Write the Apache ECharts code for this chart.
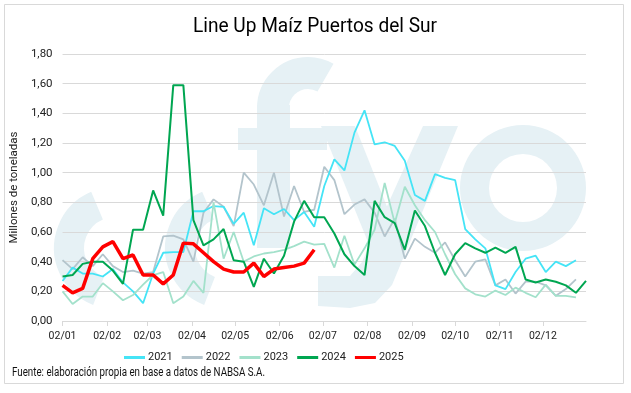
<!DOCTYPE html>
<html>
<head>
<meta charset="utf-8">
<script src="https://cdn.jsdelivr.net/npm/echarts@6/dist/echarts.min.js"></script>
<style>html,body{margin:0;padding:0;background:#fff}#c{width:631px;height:393px}</style>
</head>
<body>
<div id="c"></div>
<script>
var FONT = "Roboto, 'Liberation Sans', sans-serif";
var title = 'Line Up Maíz Puertos del Sur';
var yAxisName = 'Millones de toneladas';
var source = 'Fuente: elaboración propia en base a datos de NABSA S.A.';
var tickLabels = ['02/01','02/02','02/03','02/04','02/05','02/06','02/07','02/08','02/09','02/10','02/11','02/12'];
var seriesNames = ['2021','2022','2023','2024','2025'];
var weekStepDays = 7;

var v2021 = [0.27,0.36,0.32,0.32,0.30,0.35,0.26,0.20,0.12,0.32,0.46,0.465,0.465,0.74,0.74,0.775,0.77,0.655,0.73,0.51,0.76,0.72,0.755,0.68,0.735,0.635,0.91,1.09,1.015,1.27,1.42,1.19,1.205,1.18,1.08,0.85,0.81,0.99,0.965,0.95,0.62,0.55,0.49,0.24,0.215,0.33,0.42,0.44,0.33,0.40,0.37,0.41];
var v2022 = [0.41,0.35,0.43,0.37,0.45,0.37,0.33,0.34,0.32,0.33,0.57,0.575,0.55,0.40,0.73,0.82,0.77,0.64,1.00,0.92,0.78,1.00,0.705,0.91,0.735,0.75,1.04,0.95,0.72,0.785,0.82,0.73,0.57,0.69,0.42,0.555,0.50,0.46,0.53,0.41,0.30,0.40,0.415,0.24,0.28,0.185,0.265,0.265,0.24,0.17,0.215,0.28];
var v2023 = [0.20,0.115,0.165,0.165,0.255,0.20,0.14,0.175,0.245,0.31,0.33,0.12,0.165,0.27,0.19,0.80,0.42,0.60,0.40,0.435,0.455,0.465,0.48,0.505,0.535,0.515,0.52,0.36,0.575,0.38,0.49,0.615,0.93,0.66,0.905,0.78,0.68,0.60,0.45,0.315,0.22,0.18,0.165,0.205,0.175,0.225,0.19,0.16,0.245,0.17,0.17,0.16];
var v2024 = [0.30,0.31,0.385,0.40,0.40,0.34,0.25,0.615,0.615,0.88,0.71,1.59,1.59,0.68,0.51,0.55,0.62,0.41,0.40,0.23,0.42,0.32,0.44,0.67,0.81,0.70,0.70,0.59,0.45,0.37,0.31,0.81,0.70,0.66,0.48,0.745,0.64,0.46,0.31,0.45,0.525,0.49,0.46,0.495,0.46,0.50,0.28,0.26,0.28,0.265,0.24,0.19,0.27];
var v2025 = [0.24,0.19,0.22,0.42,0.50,0.535,0.42,0.445,0.31,0.31,0.25,0.31,0.525,0.52,0.46,0.40,0.35,0.33,0.33,0.39,0.30,0.35,0.36,0.37,0.39,0.48];

var colors = ['#45e4f6','#b3c4cc','#a3e1cb','#00a651','#ff0000'];
var widths = [1.8,1.8,1.8,2,3.5];
var allValues = [v2021,v2022,v2023,v2024,v2025];

function dayOffset(lbl){
  var p = lbl.split('/');
  var d = +p[0], m = +p[1];
  return (Date.UTC(2025, m-1, d) - Date.UTC(2025, 0, 2)) / 86400000;
}
var tickValues = tickLabels.map(dayOffset);
var labelMap = {};
tickLabels.forEach(function(l,i){ labelMap[tickValues[i]] = l; });
function fmt(v){ return v.toFixed(2).replace('.', ','); }

var mctx = document.createElement('canvas').getContext('2d');
function fitScale(text, size, weight, target){
  mctx.font = weight + ' ' + size + 'px ' + FONT;
  return target / mctx.measureText(text).width;
}

var series = allValues.map(function(vals, s){
  var data = vals.map(function(v,i){ return [i*weekStepDays, v]; });
  if (s === 4) {
    var last = data.length-1;
    data[last] = {value: data[last], label: {show:true, position:'top', distance:6, formatter: function(p){return fmt(p.value[1]);}, fontFamily: FONT, fontSize: 14, fontWeight:'bold', color:'#000'}};
  }
  return {
    name: seriesNames[s], type:'line', data: data, showSymbol:false, symbol:'none',
    lineStyle:{color: colors[s], width: widths[s]}, itemStyle:{color: colors[s]},
    z: 2 + s, animation:false
  };
});
series[1].z = 1; series[0].z = 2;

var WM = '#e6f1f5';
var watermark = [
  {type:'arc', shape:{cx:115, cy:248, r:46, startAngle:111*Math.PI/180, endAngle:247*Math.PI/180, clockwise:true}, style:{fill:null, stroke:WM, lineWidth:30}},
  {type:'arc', shape:{cx:226, cy:248, r:46, startAngle:111*Math.PI/180, endAngle:247*Math.PI/180, clockwise:true}, style:{fill:null, stroke:WM, lineWidth:30}},
  {type:'rect', shape:{x:257, y:105, width:33, height:143}, style:{fill:WM}},
  {type:'arc', shape:{cx:308, cy:108, r:35, startAngle:Math.PI, endAngle:300*Math.PI/180, clockwise:true}, style:{fill:null, stroke:WM, lineWidth:32}},
  {type:'rect', shape:{x:238, y:128, width:89, height:22}, style:{fill:WM}},
  {type:'polygon', shape:{points:[[321,126],[355,126],[405,252],[372,252]]}, style:{fill:WM}},
  {type:'polygon', shape:{points:[[423,126],[458,126],[392,285],[375,303],[350,308],[318,306],[318,276],[350,276],[362,262]]}, style:{fill:WM}},
  {type:'ring', shape:{cx:523, cy:188, r:63, r0:34}, style:{fill:WM}}
].map(function(e){ e.z = -10; e.silent = true; return e; });

var chart = echarts.init(document.getElementById('c'), null, {renderer:'canvas'});
chart.setOption({
  animation:false,
  backgroundColor:'#fff',
  grid:{left:52, right:45, top:54, bottom:72, containLabel:false},
  legend:{left:119, top:347, itemWidth:21, itemHeight:3, itemGap:9, icon:'rect',
    textStyle:{fontFamily:FONT, fontSize:11, color:'#222', padding:[0,0,0,-2]}, data:seriesNames},
  xAxis:{type:'value', min:0, max:364,
    axisLine:{show:true, lineStyle:{color:'#d9d9d9', width:1}},
    axisTick:{show:true, customValues: tickValues, length:5, lineStyle:{color:'#d9d9d9'}},
    axisLabel:{customValues: tickValues, formatter:function(v){return labelMap[v] || '';}, fontFamily:FONT, fontSize:10.5, color:'#222', margin:10},
    splitLine:{show:false}},
  yAxis:{type:'value', min:0, max:1.8, interval:0.2,
    name:yAxisName, nameLocation:'middle', nameGap:33, nameTextStyle:{fontFamily:FONT, fontSize:11.5, color:'#222'},
    axisLine:{show:false}, axisTick:{show:false},
    axisLabel:{formatter:fmt, fontFamily:FONT, fontSize:11.5, color:'#222', margin:10},
    splitLine:{lineStyle:{color:'#d9d9d9', width:1}}},
  series: series,
  graphic: watermark.concat([
    {type:'rect', shape:{x:4.5, y:4.5, width:619, height:379}, style:{fill:'none', stroke:'#d9d9d9', lineWidth:1}, silent:true, z:-20},
    {type:'text', x:315, y:27, scaleX: fitScale(title, 20, 'normal', 244), style:{text:title, fontFamily:FONT, fontSize:20, fill:'#000', align:'center', verticalAlign:'middle'}},
    {type:'text', x:12, y:373, scaleX: fitScale(source, 12.5, 'normal', 253), style:{text:source, fontFamily:FONT, fontSize:12.5, fill:'#111', align:'left', verticalAlign:'middle'}}
  ])
});
</script>
</body>
</html>
